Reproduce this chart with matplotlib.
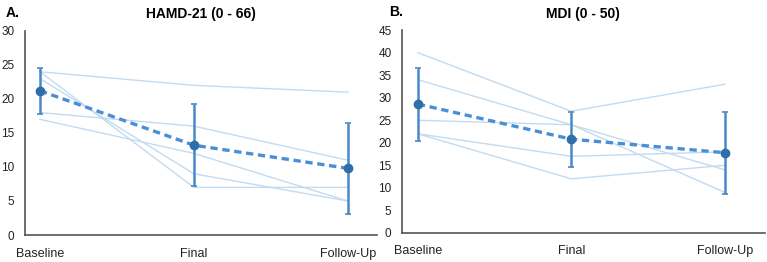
import matplotlib
matplotlib.use("Agg")
import matplotlib.pyplot as plt
import numpy as np

plt.rcParams['font.family'] = ['Liberation Sans', 'DejaVu Sans']

timepoints = ["Baseline", "Final", "Follow-Up"]

# individual subjects, HAMD-21
hamd_subjects = [
    [24, 22, 21],
    [24, 7, 7],
    [23, 9, 5],
    [18, 16, 11],
    [17, 12, 5],
]
hamd_mean = [21.2, 13.2, 9.8]
hamd_sd = [3.4, 6.0, 6.7]

# individual subjects, MDI
mdi_subjects = [
    [40, 27, 33],
    [34, 24, 9],
    [25, 24, 14],
    [22, 17, 18],
    [22, 12, 15],
]
mdi_mean = [28.6, 20.8, 17.8]
mdi_sd = [8.1, 6.1, 9.1]

LIGHT = '#c2dbf0'
MEAN_LINE = '#4a8fd6'
ERR = '#4a89c8'
MARK = '#2f6ea8'


def draw_panel(ax, subjects, mean, sd, ymax, title, xlim):
    x = np.arange(len(timepoints))
    for s in subjects:
        ax.plot(x, s, color=LIGHT, lw=1.0, zorder=1)
    ax.errorbar(x, mean, yerr=sd, fmt='none', ecolor=ERR, elinewidth=1.8,
                capsize=2.5, capthick=1.2, zorder=2)
    ax.plot(x, mean, color=MEAN_LINE, lw=2.4, ls=(0, (2.2, 1.4)), zorder=3)
    ax.plot(x, mean, 'o', color=MARK, ms=6, zorder=4)
    ax.set_xlim(*xlim)
    ax.set_ylim(0, ymax)
    ax.set_yticks(np.arange(0, ymax + 1, 5))
    ax.set_xticks(x)
    ax.set_xticklabels(timepoints)
    ax.tick_params(length=0, labelsize=9, colors='#222222')
    ax.tick_params(axis='y', pad=7.5, labelsize=8.5)
    ax.tick_params(axis='x', pad=9)
    for sp in ['top', 'right']:
        ax.spines[sp].set_visible(False)
    for sp in ['left', 'bottom']:
        ax.spines[sp].set_color('#555555')
        ax.spines[sp].set_linewidth(1.2)
    ax.set_title(title, fontsize=10, fontweight='bold', pad=9)


fig = plt.figure(figsize=(7.67, 2.62), dpi=100)
axA = fig.add_axes([0.0326, 0.103, 0.459, 0.779])
axB = fig.add_axes([0.524, 0.111, 0.473, 0.774])

draw_panel(axA, hamd_subjects, hamd_mean, hamd_sd, 30, "HAMD-21 (0 - 66)",
           (-0.097, 2.19))
draw_panel(axB, mdi_subjects, mdi_mean, mdi_sd, 45, "MDI (0 - 50)",
           (-0.104, 2.26))

fig.text(6 / 767, 1 - 13 / 262, "A.", fontsize=10, fontweight='bold', va='center')
fig.text(389 / 767, 1 - 12 / 262, "B.", fontsize=10, fontweight='bold', va='center')

fig.savefig("out.png", dpi=100)
